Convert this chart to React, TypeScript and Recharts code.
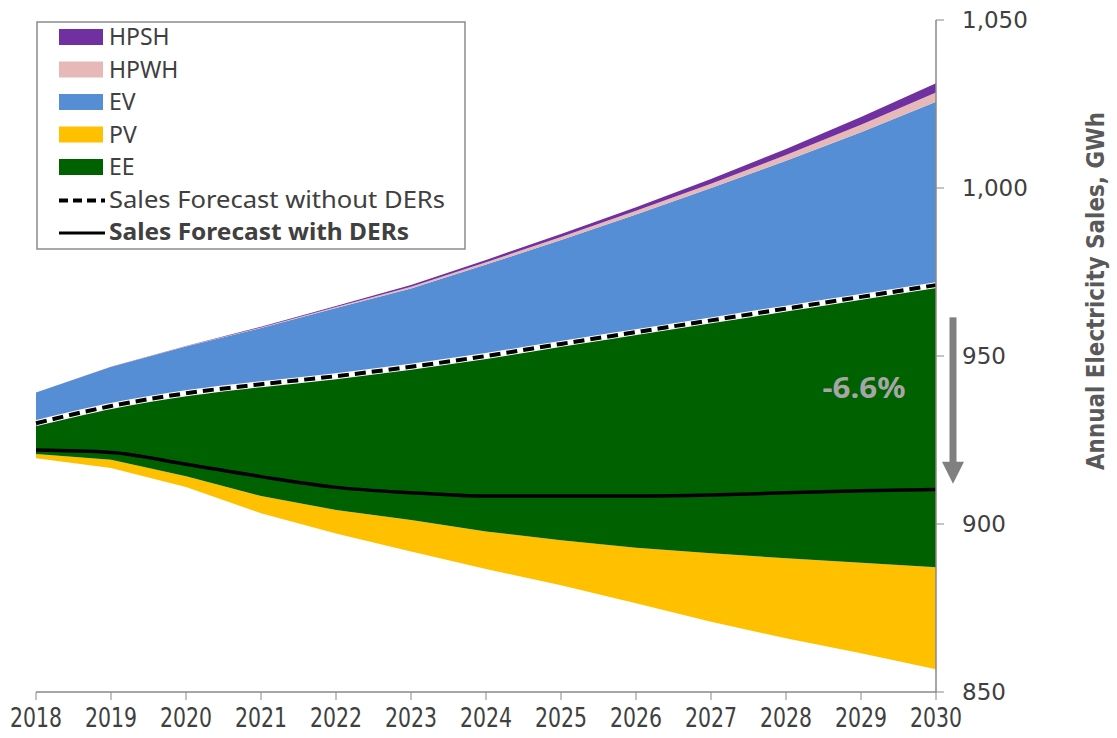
import React from 'react';
import { ComposedChart, Area, Line, XAxis, YAxis, ReferenceLine } from 'recharts';

// values, GWh
const years = [2018, 2019, 2020, 2021, 2022, 2023, 2024, 2025, 2026, 2027, 2028, 2029, 2030];
const withoutDERs = [930.0, 935.1, 938.9, 941.6, 944.0, 946.8, 950.0, 953.6, 957.1, 960.6, 964.1, 967.6, 971.1];
const withDERs = [922.0, 921.3, 917.8, 914.1, 910.9, 909.3, 908.3, 908.3, 908.3, 908.6, 909.3, 909.9, 910.3];
const ee = [9.2, 16.0, 24.7, 33.3, 39.8, 45.6, 52.2, 58.4, 64.2, 69.3, 74.3, 79.1, 84.0];
const pv = [1.2, 2.4, 3.2, 5.1, 7.0, 9.4, 11.2, 13.4, 16.5, 20.4, 23.8, 27.0, 30.3];
const ev = [9.1, 11.6, 13.9, 16.7, 20.3, 23.3, 27.2, 30.9, 35.0, 39.4, 44.0, 49.0, 54.6];
const hpwh = [0, 0.05, 0.1, 0.2, 0.3, 0.5, 0.7, 0.9, 1.1, 1.3, 1.7, 2.2, 2.7];
const hpsh = [0, 0.05, 0.1, 0.2, 0.3, 0.5, 0.7, 0.9, 1.1, 1.4, 1.8, 2.3, 2.8];
const yTicks = [850, 900, 950, 1000, 1050];

const data = years.map((year, i) => ({
  year,
  base: withoutDERs[i] - ee[i] - pv[i],
  PV: pv[i],
  EE: ee[i],
  EV: ev[i],
  HPWH: hpwh[i],
  HPSH: hpsh[i],
  without: withoutDERs[i],
  withD: withDERs[i],
}));

const W = 1117;
const H = 738;
const AXIS = '#888888';
const TEXT = '#404040';

const legendRows = [
  { name: 'HPSH', color: '#7030A0' },
  { name: 'HPWH', color: '#E6B9B8' },
  { name: 'EV', color: '#558ED5' },
  { name: 'PV', color: '#FFC000' },
  { name: 'EE', color: '#006100' },
];

function ChartLegend() {
  const rowY = (i: number) => 16 + i * 32.5;
  return (
    <svg width={432} height={230} style={{ position: 'absolute', left: 36, top: 21 }}>
      <rect x={1} y={1} width={428} height={227} fill="#fff" stroke="#8c8c8c" strokeWidth={1.5} />
      {legendRows.map((r, i) => (
        <g key={r.name}>
          <rect x={23} y={rowY(i) - 8} width={44} height={16} fill={r.color} />
          <text x={73} y={rowY(i) + 8} fontSize={23} fill={TEXT} fontFamily="Noto Sans">{r.name}</text>
        </g>
      ))}
      <line x1={23} x2={69} y1={rowY(5) + 1} y2={rowY(5) + 1} stroke="#000" strokeWidth={4} strokeDasharray="9 5" />
      <text x={73} y={rowY(5) + 8} fontSize={23} fill={TEXT} fontFamily="Noto Sans"
        textLength={336} lengthAdjust="spacingAndGlyphs">Sales Forecast without DERs</text>
      <line x1={23} x2={69} y1={rowY(6) + 1} y2={rowY(6) + 1} stroke="#000" strokeWidth={3} />
      <text x={73} y={rowY(6) + 8} fontSize={23} fill={TEXT} fontFamily="Noto Sans" fontWeight={700}
        textLength={300} lengthAdjust="spacingAndGlyphs">Sales Forecast with DERs</text>
    </svg>
  );
}

function YearTick(props: any) {
  const { x, y, payload } = props;
  return (
    <text x={x} y={y + 27} textAnchor="middle" fontSize={27} fill={TEXT} fontFamily="DejaVu Sans Condensed"
      textLength={52} lengthAdjust="spacingAndGlyphs">
      {payload.value}
    </text>
  );
}

function DropArrow(props: any) {
  const { x1, y1, y2 } = props;
  const x = x1 + 17;
  return (
    <g>
      <rect x={x - 3.5} y={y1} width={7} height={y2 - y1 - 21} fill="#808080" />
      <polygon points={`${x - 11},${y2 - 22} ${x + 11},${y2 - 22} ${x},${y2}`} fill="#808080" />
      <text x={x - 89} y={y1 + 81} textAnchor="middle" fontSize={28} fontWeight={700}
        fontFamily="Noto Sans" fill="#A6A6A6" textLength={83} lengthAdjust="spacingAndGlyphs">-6.6%</text>
    </g>
  );
}

function AxisTitle(props: any) {
  const { viewBox } = props;
  const x = viewBox.x + 160;
  const y = viewBox.y + 271;
  return (
    <text x={x} y={y} transform={`rotate(-90 ${x} ${y})`} textAnchor="middle" dominantBaseline="central"
      fontSize={24} fontWeight={700} fill="#595959" fontFamily="DejaVu Sans Condensed"
      textLength={358} lengthAdjust="spacingAndGlyphs">
      Annual Electricity Sales, GWh
    </text>
  );
}

export default function App() {
  return (
    <div style={{ position: 'absolute', left: 0, top: 0, width: W, height: H, background: '#fff' }}>
      <ComposedChart width={W} height={H} data={data} margin={{ top: 20, right: 121, bottom: 6, left: 36 }}>
        <XAxis
          dataKey="year" interval={0} height={40} tickSize={8} tickMargin={0}
          axisLine={{ stroke: AXIS, strokeWidth: 1.5 }} tickLine={{ stroke: AXIS }}
          tick={<YearTick />}
        />
        <YAxis
          orientation="right" domain={[850, 1050]} ticks={yTicks} allowDataOverflow width={60}
          tickSize={8} tickMargin={18} tickFormatter={(v: number) => v.toLocaleString('en-US')}
          axisLine={{ stroke: AXIS, strokeWidth: 1.5 }} tickLine={{ stroke: AXIS }}
          tick={{ fontSize: 23, fill: TEXT, fontFamily: 'DejaVu Sans', textAnchor: 'start' }}
          label={<AxisTitle />}
        />
        <Area type="linear" dataKey="base" stackId="s" stroke="none" fill="none" isAnimationActive={false} activeDot={false} />
        <Area type="linear" dataKey="PV" stackId="s" stroke="none" fill="#FFC000" fillOpacity={1} isAnimationActive={false} activeDot={false} />
        <Area type="linear" dataKey="EE" stackId="s" stroke="none" fill="#006100" fillOpacity={1} isAnimationActive={false} activeDot={false} />
        <Area type="linear" dataKey="EV" stackId="s" stroke="none" fill="#558ED5" fillOpacity={1} isAnimationActive={false} activeDot={false} />
        <Area type="linear" dataKey="HPWH" stackId="s" stroke="none" fill="#E6B9B8" fillOpacity={1} isAnimationActive={false} activeDot={false} />
        <Area type="linear" dataKey="HPSH" stackId="s" stroke="none" fill="#7030A0" fillOpacity={1} isAnimationActive={false} activeDot={false} />
        <Line type="monotone" dataKey="without" stroke="#ffffff" strokeWidth={6} dot={false} activeDot={false} isAnimationActive={false} />
        <Line type="monotone" dataKey="without" stroke="#000" strokeWidth={4} strokeDasharray="11 6" dot={false} activeDot={false} isAnimationActive={false} />
        <Line type="monotone" dataKey="withD" stroke="#000" strokeWidth={3.5} dot={false} activeDot={false} isAnimationActive={false} />
        <ReferenceLine
          segment={[{ x: 2030, y: 961.5 }, { x: 2030, y: 912 }]}
          ifOverflow="visible" shape={(p: any) => <DropArrow {...p} />}
        />
      </ComposedChart>
      <ChartLegend />
    </div>
  );
}
